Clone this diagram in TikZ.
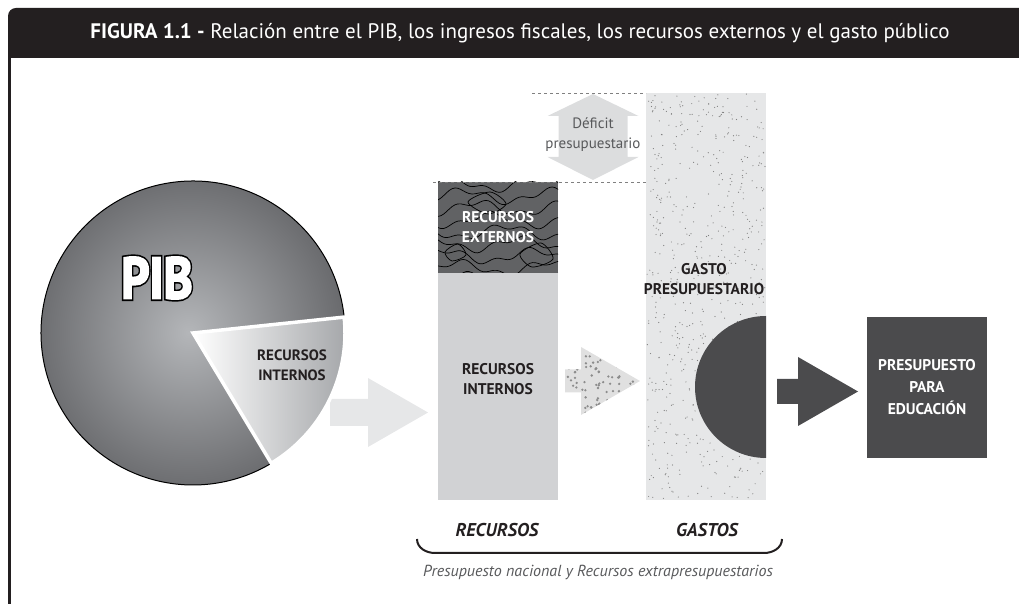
\documentclass[tikz,border=0pt]{standalone}
\usepackage{fontspec}
\setmainfont{PT Sans}
\usetikzlibrary{calc,positioning}
\definecolor{hdr}{HTML}{231F20}
\definecolor{darkgr}{HTML}{4B4B4D}
\definecolor{extgr}{HTML}{616264}
\definecolor{intgr}{HTML}{D1D2D4}
\definecolor{gastogr}{HTML}{E6E7E8}
\definecolor{arrowgr}{HTML}{E6E7E8}
\definecolor{defgr}{HTML}{DCDDDE}
\definecolor{txtgr}{HTML}{58595B}
\definecolor{pieinner}{HTML}{B4B6B9}
\definecolor{pieouter}{HTML}{6A6B6E}
\definecolor{wedgegr}{HTML}{A3A5A8}
% heavy letters: stroke drawn over the fill
\newcommand{\heavy}[2]{\special{pdf:code 2 Tr #1 w}#2\special{pdf:code 0 Tr}}

\begin{document}
\begin{tikzpicture}[x=1pt,y=1pt,
    bar/.style={minimum width=120pt,inner sep=0pt,outer sep=0pt,anchor=south west},
    lbl/.style={font=\fontsize{15.5}{20}\selectfont\bfseries,align=center,text=hdr},
    wlbl/.style={font=\fontsize{15.5}{20}\selectfont\bfseries,align=center,text=white},
    foot/.style={font=\fontsize{18.5}{20}\selectfont\bfseries\itshape,text=hdr},
    pibfont/.style={font=\fontsize{58}{60}\selectfont\bfseries}]
\useasboundingbox (0,0) rectangle (1019,604);

% header and frame
\fill[hdr] (8,546) -- (8,588) arc (180:90:8) -- (1019,596) -- (1019,546) -- cycle;
\draw[hdr,line width=2.5] (9.25,546) -- (9.25,0);
\node[font=\fontsize{21}{24}\selectfont,text=white] (titulo) at (520,570.5)
    {\textbf{FIGURA 1.1 -} Relación entre el PIB, los ingresos fiscales, los recursos externos y el gasto público};

% arrow from the pie
\fill[arrowgr] (330,178) -- (368,178) -- (368,157) -- (428,191.5) -- (368,226) -- (368,205) -- (330,205) -- cycle;

% pie
\coordinate (c) at (193,271);
\shadedraw[inner color=pieinner,outer color=pieouter,draw=black,line width=1]
    (c) -- ($(c)+(6:152)$) arc (6:301:152) -- cycle;
\begin{scope}[shift={(13.4,-6.7)}]
    \shadedraw[draw=white,line width=3.5,left color=white,right color=wedgegr]
        (c) -- ($(c)+(-59:152)$) arc (-59:6:152) -- cycle;
\end{scope}
\node[font=\fontsize{15}{20}\selectfont\bfseries,align=center,text=hdr] (wedge) at (292,239) {RECURSOS\\INTERNOS};
\node[pibfont,text=black] (pibline) at (157,326) {\scalebox{0.85}[1]{\heavy{5.5}{PIB}}};
\node[pibfont,text=white] (pib) at (pibline) {\scalebox{0.85}[1]{\heavy{2.2}{PIB}}};

% recursos
\node[bar,fill=intgr,minimum height=227pt] (internos) at (438,104) {};
\node[lbl] (intlbl) at ($(internos.center)+(0,7)$) {RECURSOS\\INTERNOS};
\node[bar,fill=extgr,minimum height=91pt] (externos) at (438,331) {};
\begin{scope}
    \clip (externos.south west) rectangle (externos.north east);
    \foreach \k in {0,...,8}
        \draw[black,line width=0.7] plot[domain=430:566,samples=50,smooth]
            (\x,{324+12*\k+6*sin(4*\x+57*\k)+3*sin(11*\x+20*\k)});
    \draw[black,line width=0.7] plot[smooth cycle] coordinates {(468,402) (490,412) (506,400) (488,390)};
    \draw[black,line width=0.7] plot[smooth cycle] coordinates {(520,350) (541,361) (553,345) (532,337)};
    \draw[black,line width=0.7] plot[smooth cycle] coordinates {(445,352) (458,360) (466,349) (452,343)};
\end{scope}
\node[wlbl] (extlbl) at (externos.center) {RECURSOS\\EXTERNOS};

% gasto
\node[bar,fill=gastogr,minimum height=407pt] (gasto) at (646,104) {};
\pgfmathsetseed{42}
\foreach \i in {1,...,650}
    \fill[black!50] ({647+118*rnd},{105+405*rnd}) circle (0.6);
\node[lbl] (gastolbl) at (704,325) {GASTO\\PRESUPUESTARIO};
\fill[darkgr] (766,288) arc (90:270:71) -- cycle;

% dotted arrow
\begin{scope}
    \clip (565,211.5) -- (581,211.5) -- (581,189) -- (640,223) -- (581,257) -- (581,234.5) -- (565,234.5) -- cycle;
    \fill[black!12] (560,185) rectangle (645,260);
    \pgfmathsetseed{7}
    \foreach \i in {1,...,120}
        \fill[black!45] ({565+75*rnd},{189+68*rnd}) circle (1.3);
\end{scope}

% deficit
\draw[dashed,black!50,line width=0.8] (532,511) -- (gasto.north west);
\draw[dashed,black!50,line width=0.8] ($(externos.north west)+(-5,0)$) -- (gasto.west |- externos.north);
\fill[defgr] (593,510) -- (638.5,488) -- (627.5,488) -- (627.5,447) -- (638.5,447) -- (593,424)
    -- (547.5,447) -- (558.5,447) -- (558.5,488) -- (547.5,488) -- cycle;
\node[font=\fontsize{15}{20}\selectfont,text=txtgr,align=center] (deficit) at (593,469) {Déficit\\presupuestario};

% to education
\fill[darkgr] (777,200) -- (798,200) -- (798,178) -- (858,212.5) -- (798,247) -- (798,225) -- (777,225) -- cycle;
\node[bar,fill=darkgr,minimum height=141pt,text=white,align=center,
    font=\fontsize{15.5}{22}\selectfont\bfseries] (educ) at (867,146) {PRESUPUESTO\\PARA\\EDUCACIÓN};

% footer
\node[foot] (rec) at (497,74) {RECURSOS};
\node[foot] (gas) at (707,74) {GASTOS};
\draw[hdr,line width=2] (417,65) to[out=-90,in=180] (435,51) -- (764,51) to[out=0,in=-90] (782,65);
\node[font=\fontsize{16}{18}\selectfont\itshape,text=txtgr] (nota) at (598,32)
    {Presupuesto nacional y Recursos extrapresupuestarios};
\end{tikzpicture}
\end{document}
